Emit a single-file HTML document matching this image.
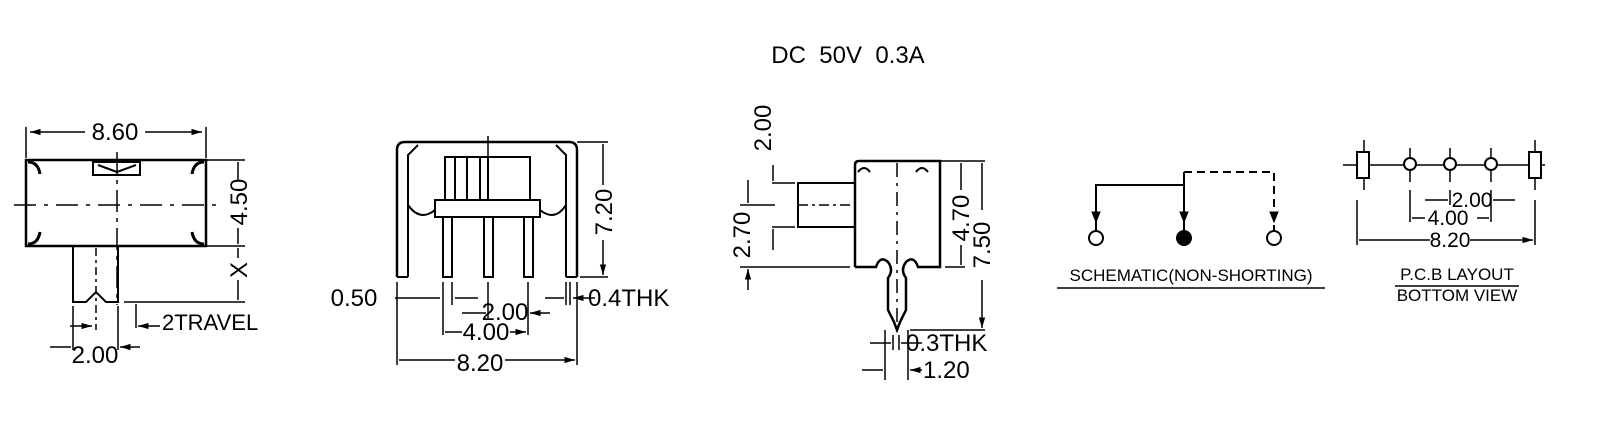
<!DOCTYPE html>
<html><head><meta charset="utf-8"><style>
html,body{margin:0;padding:0;background:#fff;}
svg{display:block;}
text{font-family:"Liberation Sans",sans-serif;fill:#000;}
</style></head><body>
<svg width="1606" height="437" viewBox="0 0 1606 437" xmlns="http://www.w3.org/2000/svg">
<defs>
<marker id="a" viewBox="0 0 10 10" refX="10" refY="5" markerWidth="7" markerHeight="7" orient="auto-start-reverse"><path d="M0,2 L10,5 L0,8z" fill="#000"/></marker>
</defs>
<g stroke="#000" fill="none" stroke-width="2">
<text x="848" y="63" font-size="24" text-anchor="middle" stroke="none">DC&#160;&#160;50V&#160;&#160;0.3A</text>

<!-- Drawing 1 -->
<rect x="26" y="160" width="180" height="86" stroke-width="2.5"/>
<path d="M93,162 L140,162 L140,175 L93,175z M98,165 L117,172 L136,165"/>
<path d="M28,162 q10,0 12,12 M204,162 q-10,0 -12,12 M28,244 q10,0 12,-12 M204,244 q-10,0 -12,-12" stroke-width="3"/>
<path d="M14,205 L220,205" stroke-dasharray="22,8,4,8" stroke-width="1.5"/>
<path d="M117,152 L117,305" stroke-dasharray="22,6,4,6" stroke-width="1.5"/>
<path d="M26,158 L26,127 M206,158 L206,127" stroke-width="1.5"/>
<path d="M30,132 L85,132 M145,132 L202,132" marker-start="url(#a)" marker-end="url(#a)" stroke-width="1.5"/>
<text x="115" y="140" font-size="24" text-anchor="middle" stroke="none">8.60</text>
<path d="M206,160 L245,160 M206,246 L245,246 M124,302 L245,302" stroke-width="1.5"/>
<path d="M238,162 L238,180 M238,228 L238,244 M238,248 L238,258 M238,280 L238,300" stroke-width="1.5"/>
<text transform="translate(247,202) rotate(-90)" font-size="24" text-anchor="middle" stroke="none">4.50</text>
<text transform="translate(247,270) rotate(-90)" font-size="24" text-anchor="middle" stroke="none">X</text>
<path d="M73,246 L73,302 L86,302 L96,292 L106,302 L118,302 L118,246"/>
<path d="M96,248 L96,330" stroke-dasharray="8,4,3,4" stroke-width="1.5"/>
<path d="M73,306 L73,350 M118,306 L118,350 M136,304 L136,328" stroke-width="1.5"/>
<path d="M70,326 L92,326" marker-end="url(#a)" stroke-width="1.5"/>
<path d="M160,326 L138,326" marker-end="url(#a)" stroke-width="1.5"/>
<text x="162" y="330" font-size="22" stroke="none">2TRAVEL</text>
<path d="M50,347 L71,347 M140,347 L120,347" marker-end="url(#a)" stroke-width="1.5"/>
<text x="95" y="363" font-size="24" text-anchor="middle" stroke="none">2.00</text>

<!-- Drawing 2 -->
<path d="M397,277 L397,150 Q397,142 405,142 L569,142 Q577,142 577,150 L577,277" stroke-width="2.5"/>
<path d="M408,277 L408,155 L418,145 M566,277 L566,155 L556,145"/>
<path d="M408,277 L397,277 M566,277 L577,277"/>
<path d="M408,205 Q420,222 435,210 M540,210 Q555,222 566,205"/>
<rect x="445" y="157" width="85" height="43"/>
<path d="M455,157 L455,200 M467,157 L467,200 M480,157 L480,200 M488,157 L488,200"/>
<rect x="435" y="200" width="105" height="17"/>
<path d="M488,136 L488,200" stroke-width="1.5"/>
<rect x="443" y="217" width="9" height="60"/>
<rect x="484" y="217" width="9" height="60"/>
<rect x="524" y="217" width="9" height="60"/>
<path d="M577,142 L608,142 M580,277 L608,277" stroke-width="1.5"/>
<path d="M603,185 L603,144 M603,240 L603,275" marker-end="url(#a)" stroke-width="1.5"/>
<text transform="translate(612,212) rotate(-90)" font-size="24" text-anchor="middle" stroke="none">7.20</text>
<path d="M397,282 L397,365 M577,282 L577,365 M443,282 L443,335 M528,282 L528,335 M452,282 L452,305 M488,282 L488,318 M566,282 L566,305 M570,282 L570,305" stroke-width="1.5"/>
<path d="M395,298 L440,298 M478,298 L455,298 M545,298 L564,298 M595,298 L573,298" marker-end="url(#a)" stroke-width="1.5"/>
<text x="354" y="306" font-size="24" text-anchor="middle" stroke="none">0.50</text>
<text x="588" y="306" font-size="24" stroke="none">0.4THK</text>
<path d="M462,313 L486,313 M550,313 L530,313" marker-end="url(#a)" stroke-width="1.5"/>
<text x="505" y="320" font-size="24" text-anchor="middle" stroke="none">2.00</text>
<path d="M462,332 L445,332 M510,332 L526,332" marker-end="url(#a)" stroke-width="1.5"/>
<text x="486" y="340" font-size="24" text-anchor="middle" stroke="none">4.00</text>
<path d="M455,360 L399,360 M505,360 L575,360" marker-end="url(#a)" stroke-width="1.5"/>
<text x="480" y="371" font-size="24" text-anchor="middle" stroke="none">8.20</text>

<!-- Drawing 3 -->
<path d="M855,267 L855,165 Q855,161 859,161 L940,161 L940,267 L918,267 Q914,255 906,262 Q900,270 906,278 L906,310 L900,322 L897,330 L894,322 L888,310 L888,278 Q894,270 888,262 Q880,255 876,267 L855,267" stroke-width="2.5"/>
<path d="M858,172 q6,-8 12,0 M928,172 q-6,-8 -12,0"/>
<rect x="798" y="183" width="57" height="44"/>
<path d="M798,205 L855,205" stroke-dasharray="10,4,3,4" stroke-width="1.5"/>
<path d="M897,163 L897,322" stroke-dasharray="14,6,3,6" stroke-width="1.5"/>
<path d="M772,183 L795,183 M772,227 L795,227 M740,205 L775,205 M740,267 L850,267" stroke-width="1.5"/>
<path d="M773,165 L773,181 M773,250 L773,229 M748,180 L748,203 M748,290 L748,269" marker-end="url(#a)" stroke-width="1.5"/>
<text transform="translate(771,128) rotate(-90)" font-size="24" text-anchor="middle" stroke="none">2.00</text>
<text transform="translate(750,235) rotate(-90)" font-size="24" text-anchor="middle" stroke="none">2.70</text>
<path d="M940,161 L985,161 M945,267 L965,267 M910,330 L985,330" stroke-width="1.5"/>
<path d="M961,190 L961,163 M961,245 L961,265 M982,210 L982,163 M982,280 L982,328" marker-end="url(#a)" stroke-width="1.5"/>
<text transform="translate(969,218) rotate(-90)" font-size="24" text-anchor="middle" stroke="none">4.70</text>
<text transform="translate(990,245) rotate(-90)" font-size="24" text-anchor="middle" stroke="none">7.50</text>
<path d="M885,330 L885,380 M908,330 L908,380 M893,335 L893,350 M899,335 L899,350" stroke-width="1.5"/>
<path d="M870,343 L891,343 M922,343 L901,343 M862,370 L883,370 M922,370 L910,370" marker-end="url(#a)" stroke-width="1.5"/>
<text x="906" y="351" font-size="24" stroke="none">0.3THK</text>
<text x="923" y="378" font-size="24" stroke="none">1.20</text>

<!-- Schematic -->
<path d="M1096,230 L1096,185 L1184,185 M1184,172 L1184,230" stroke-width="2"/>
<path d="M1184,172 L1274,172 L1274,230" stroke-dasharray="8,5" stroke-width="2"/>
<path d="M1092,212 L1100,212 L1096,222z M1180,212 L1188,212 L1184,222z M1270,212 L1278,212 L1274,222z" fill="#000" stroke-width="1"/>
<circle cx="1096" cy="238" r="7" fill="#fff"/>
<circle cx="1184" cy="238" r="7" fill="#000"/>
<circle cx="1274" cy="238" r="7" fill="#fff"/>
<text x="1191" y="281" font-size="17" text-anchor="middle" stroke="none">SCHEMATIC(NON-SHORTING)</text>
<path d="M1057,288 L1325,288" stroke-width="1.5"/>

<!-- PCB -->
<path d="M1343,165 L1545,165" stroke-width="1.5"/>
<path d="M1364,140 L1364,190 M1410,148 L1410,182 M1450,148 L1450,182 M1491,148 L1491,182 M1535,140 L1535,190" stroke-width="1.5"/>
<rect x="1357" y="152" width="12" height="26" fill="#fff"/>
<rect x="1529" y="152" width="12" height="26" fill="#fff"/>
<circle cx="1410" cy="164" r="6" fill="#fff"/>
<circle cx="1450" cy="164" r="6" fill="#fff"/>
<circle cx="1491" cy="164" r="6" fill="#fff"/>
<path d="M1357,200 L1357,245 M1535,200 L1535,245 M1410,190 L1410,222 M1491,190 L1491,222 M1450,190 L1450,205" stroke-width="1.5"/>
<path d="M1425,200 L1448,200 M1515,200 L1493,200 M1425,218 L1412,218 M1477,218 L1489,218 M1430,240 L1359,240 M1470,240 L1533,240" marker-end="url(#a)" stroke-width="1.5"/>
<text x="1472" y="207" font-size="21" text-anchor="middle" stroke="none">2.00</text>
<text x="1448" y="225" font-size="21" text-anchor="middle" stroke="none">4.00</text>
<text x="1450" y="247" font-size="21" text-anchor="middle" stroke="none">8.20</text>
<text x="1457" y="280" font-size="17" text-anchor="middle" stroke="none">P.C.B LAYOUT</text>
<path d="M1395,286 L1519,286" stroke-width="1.5"/>
<text x="1457" y="301" font-size="17" text-anchor="middle" stroke="none">BOTTOM VIEW</text>
</g>
</svg>
</body></html>
